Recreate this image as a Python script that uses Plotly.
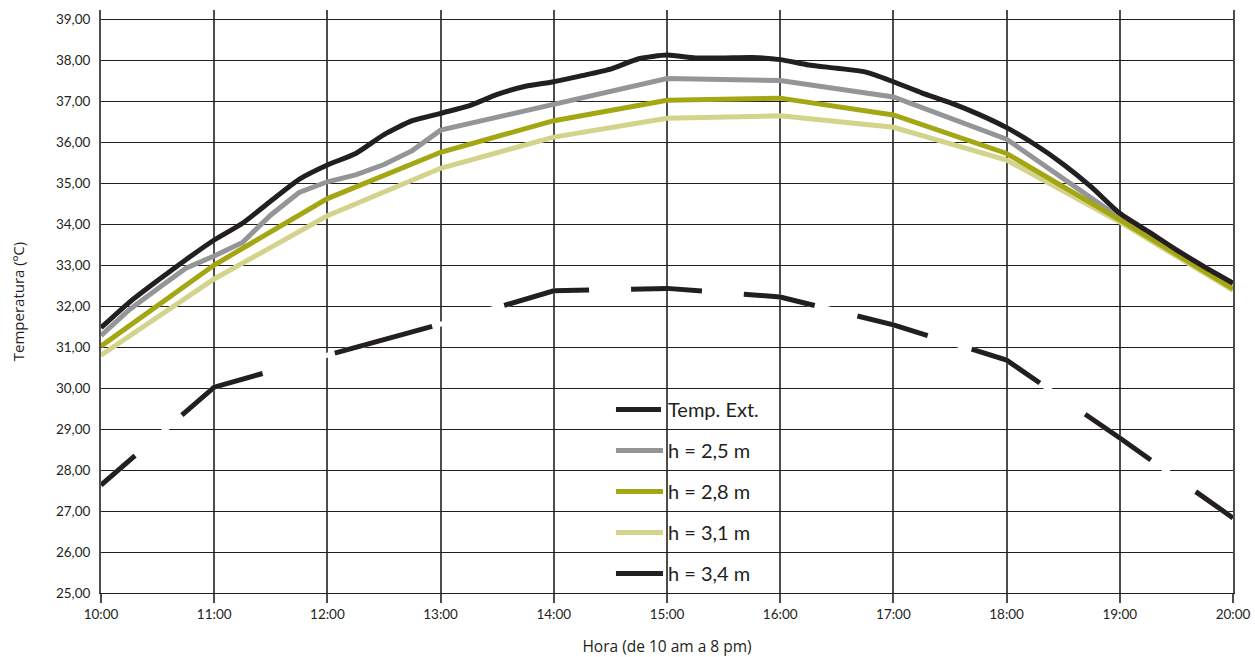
import plotly.graph_objects as go

# ---------------- data ----------------
hours = [10, 11, 12, 13, 14, 15, 16, 17, 18, 19, 20]
tick_labels = ["10:00", "11:00", "12:00", "13:00", "14:00", "15:00",
               "16:00", "17:00", "18:00", "19:00", "20:00"]
y_ticks = [25, 26, 27, 28, 29, 30, 31, 32, 33, 34, 35, 36, 37, 38, 39]

temp_ext = [27.63, 30.02, 30.80, 31.56, 32.37, 32.43, 32.22, 31.54, 30.68, 28.78, 26.83]

h25_x = [10, 10.25, 10.5, 10.75, 11, 11.25, 11.5, 11.75, 12, 12.25, 12.5, 12.75,
         13, 14, 15, 16, 17, 18, 19, 20]
h25 = [31.28, 31.91, 32.42, 32.92, 33.22, 33.55, 34.22, 34.77, 35.03, 35.20, 35.45, 35.79,
       36.29, 36.93, 37.55, 37.50, 37.10, 36.07, 34.15, 32.55]

h28 = [31.02, 33.00, 34.62, 35.75, 36.52, 37.02, 37.07, 36.66, 35.72, 34.10, 32.42]
h31 = [30.80, 32.66, 34.20, 35.36, 36.12, 36.58, 36.64, 36.36, 35.56, 34.05, 32.38]

h34_x = [10 + 0.25 * i for i in range(41)]
h34 = [31.47, 32.09, 32.62, 33.13, 33.61, 34.02, 34.56, 35.09,
       35.44, 35.72, 36.18, 36.52, 36.70, 36.88, 37.16, 37.36,
       37.47, 37.62, 37.78, 38.03, 38.12, 38.05, 38.05, 38.06,
       38.01, 37.88, 37.80, 37.71, 37.47, 37.20, 36.96, 36.68,
       36.35, 35.94, 35.46, 34.90, 34.26, 33.82, 33.37, 32.95, 32.56]

names = ["Temp. Ext.", "h = 2,5 m", "h = 2,8 m", "h = 3,1 m", "h = 3,4 m"]

# ---------------- style ----------------
BLACK = "#231f20"
GRAY = "#939598"
OLIVE = "#a4a614"
LIGHT = "#d3d38c"
FONT = "Lato"
TFONT = "Open Sans"
LW = 5
dash_pattern = "45px,62px,93px,75px,101px,75px,87px,42px,71px,42px,72px,44px,73px,46px,77px,55px,80px,55px,60px"

fig = go.Figure()

# white casing under dashed line (gaps appear white over gridlines)
fig.add_trace(go.Scatter(x=hours, y=temp_ext, mode="lines",
                         line=dict(color="white", width=LW), showlegend=False,
                         hoverinfo="skip"))
fig.add_trace(go.Scatter(x=hours, y=temp_ext, mode="lines", name=names[0],
                         legendgroup="a", legendrank=1,
                         line=dict(color=BLACK, width=LW, dash=dash_pattern)))
fig.add_trace(go.Scatter(x=h25_x, y=h25, mode="lines", name=names[1], legendgroup="b",
                         legendrank=2, line=dict(color=GRAY, width=LW)))
fig.add_trace(go.Scatter(x=hours, y=h31, mode="lines", name=names[3], legendgroup="d",
                         legendrank=4, line=dict(color=LIGHT, width=LW)))
fig.add_trace(go.Scatter(x=hours, y=h28, mode="lines", name=names[2], legendgroup="c",
                         legendrank=3, line=dict(color=OLIVE, width=LW)))
fig.add_trace(go.Scatter(x=h34_x, y=h34, mode="lines", name=names[4], legendgroup="e",
                         legendrank=5,
                         line=dict(color=BLACK, width=LW, shape="spline", smoothing=0.6)))

fig.update_layout(
    width=1255, height=657,
    margin=dict(l=101, r=22, t=10, b=64, autoexpand=False),
    paper_bgcolor="white", plot_bgcolor="white",
    separators=",.",
    font=dict(family=FONT, size=13, color=BLACK),
    showlegend=True,
    legend=dict(
        x=0.4505, y=0.348, xanchor="left", yanchor="top",
        bgcolor="rgba(0,0,0,0)", borderwidth=0,
        font=dict(family=FONT, size=20, color=BLACK),
        itemwidth=47, tracegroupgap=12, traceorder="grouped",
    ),
    xaxis=dict(
        range=[10, 20], tickmode="array", tickvals=hours, ticktext=tick_labels,
        showgrid=True, gridcolor="#4d4d4d", gridwidth=2,
        ticks="outside", ticklen=9, tickwidth=2, tickcolor="#4d4d4d",
        showline=True, linecolor=BLACK, linewidth=1.3,
        zeroline=False, automargin=False,
        tickfont=dict(family=FONT, size=13.5, color=BLACK),
        title=dict(text="Hora (de 10 am a 8 pm)", font=dict(family=TFONT, size=15.5, color=BLACK),
                   standoff=28),
    ),
    yaxis=dict(
        range=[25, 39.22], tickmode="array", tickvals=y_ticks, tickformat=".2f",
        showgrid=True, gridcolor=BLACK, gridwidth=1.3,
        ticks="", showline=True, linecolor="#4d4d4d", linewidth=2, mirror=True,
        zeroline=False, ticklabelstandoff=6, automargin=False,
        tickfont=dict(family=FONT, size=13.5, color=BLACK),
        title=dict(text="Temperatura (ºC)", font=dict(family=TFONT, size=15, color=BLACK),
                   standoff=28),
    ),
)

fig.write_html(
    "out.html",
    config={"displayModeBar": False},
    post_script="document.body.style.margin='0';document.body.style.overflow='hidden';",
)
